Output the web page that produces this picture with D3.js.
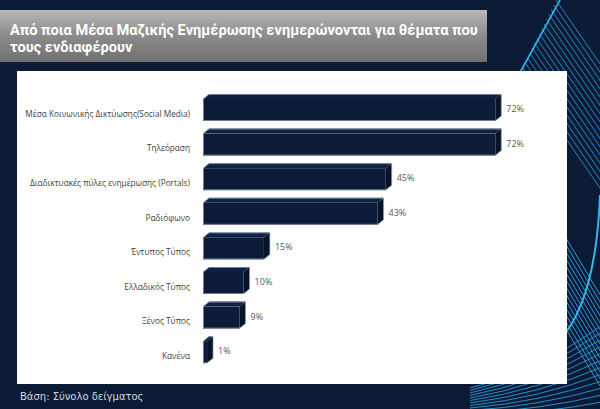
<!DOCTYPE html>
<html>
<head>
<meta charset="utf-8">
<script src="https://cdn.jsdelivr.net/npm/d3@7"></script>
<style>
  body { margin: 0; background: #0b1b35; }
  svg { display: block; }
</style>
</head>
<body>
<div id="chart"></div>
<script>
// Data
const categories = [
  "Μέσα Κοινωνικής Δικτύωσης(Social Media)",
  "Τηλεόραση",
  "Διαδικτυακές πύλες ενημέρωσης (Portals)",
  "Ραδιόφωνο",
  "Έντυπος Τύπος",
  "Ελλαδικός Τύπος",
  "Ξένος Τύπος",
  "Κανένα",
]
const values = [72, 72, 45, 43, 15, 10, 9, 1]
const titleLines = [
  "Από ποια Μέσα Μαζικής Ενημέρωσης ενημερώνονται για θέματα που",
  "τους ενδιαφέρουν",
]
const footnote = "Βάση: Σύνολο δείγματος"

const width = 600
const height = 409

const svg = d3.select("#chart").append("svg")
    .attr("width", width)
    .attr("height", height)

const defs = svg.append("defs")
const grad = defs.append("linearGradient")
    .attr("id", "banner-grad")
    .attr("x1", "0%").attr("x2", "0%")
    .attr("y1", "0%").attr("y2", "100%")
grad.selectAll("stop")
    .data([["0%", "#b9b9b9"], ["45%", "#8e8e8e"], ["100%", "#707070"]])
    .enter().append("stop")
        .attr("offset", d => d[0])
        .attr("stop-color", d => d[1])

// Background
svg.append("rect")
    .attr("width", width).attr("height", height)
    .attr("fill", "#0b1b35")

// Decorative lines (right side)
const deco = svg.append("g")
    .attr("fill", "none")
    .attr("stroke", "#2a9ad8")
    .attr("stroke-width", 1)
// top family
for (let k = 0; k < 16; k++) {
    const t = k / 15
    const x0 = 556 - t * 36
    const y0 = t * 72
    deco.append("line")
        .attr("x1", x0).attr("y1", y0)
        .attr("x2", x0 + 140).attr("y2", y0 + 140 * 1.45)
        .attr("opacity", 0.85)
}
deco.append("line")
    .attr("x1", 560).attr("y1", 0)
    .attr("x2", 517).attr("y2", 78)
    .attr("stroke", "#35b4f0").attr("stroke-width", 1.6)
// middle family
for (let k = 0; k < 14; k++) {
    const y0 = 228 + k * 7
    deco.append("line")
        .attr("x1", 560).attr("y1", y0)
        .attr("x2", 620).attr("y2", y0 + 100)
}
deco.append("path")
    .attr("d", "M600,195 Q596,300 560,340")
    .attr("stroke", "#35b4f0").attr("stroke-width", 2)
// bottom family
for (let k = 0; k < 12; k++) {
    deco.append("path")
        .attr("d", `M470,${388 + k * 2.5} Q540,${370 + k * 4} 602,${325 + k * 7}`)
        .attr("opacity", 0.9)
}

// Title banner
svg.append("rect")
    .attr("x", 0).attr("y", 10)
    .attr("width", 487).attr("height", 52)
    .attr("fill", "url(#banner-grad)")
const titleGroup = svg.append("g")
titleGroup.selectAll("text")
    .data(titleLines)
    .enter().append("text")
        .attr("x", 0)
        .attr("y", (d, i) => 35 + i * 17)
        .attr("fill", "#ffffff")
        .style("font-family", "Roboto, 'Liberation Sans', sans-serif")
        .style("font-weight", 700)
        .style("font-size", "14.5px")
        .text(d => d)
const firstLen = titleGroup.select("text").node().getComputedTextLength()
titleGroup.attr("transform", `translate(10,0) scale(${468 / firstLen},1)`)

// White panel
svg.append("rect")
    .attr("x", 17).attr("y", 71)
    .attr("width", 550).attr("height", 313)
    .attr("fill", "#ffffff")

// Footnote
svg.append("text")
    .attr("x", 20).attr("y", 400)
    .attr("fill", "#d4d8de")
    .style("font-family", "'DejaVu Sans', sans-serif")
    .style("font-size", "10px")
    .text(footnote)

// Scales
const xScale = d3.scaleLinear()
    .domain([0, 100])
    .range([203, 609])
const yScale = d3.scaleBand()
    .domain(categories)
    .range([94, 94 + 34.6 * categories.length])

const depthX = 6
const depthY = 5
const faceH = 22

const bars = svg.append("g")
    .selectAll("g")
    .data(values)
    .enter().append("g")

// front face
bars.append("rect")
    .attr("x", xScale(0))
    .attr("y", (d, i) => yScale(categories[i]) + depthY)
    .attr("width", d => xScale(d) - xScale(0))
    .attr("height", faceH)
    .attr("fill", "#0c1c38")
// top face
bars.append("path")
    .attr("d", (d, i) => {
        const y = yScale(categories[i]) + depthY
        const x0 = xScale(0), x1 = xScale(d)
        return `M${x0},${y} L${x0 + depthX},${y - depthY} L${x1 + depthX},${y - depthY} L${x1},${y} Z`
    })
    .attr("fill", "#0f2142")
// side face
bars.append("path")
    .attr("d", (d, i) => {
        const y = yScale(categories[i]) + depthY
        const x1 = xScale(d)
        return `M${x1},${y} L${x1 + depthX},${y - depthY} L${x1 + depthX},${y + faceH - depthY} L${x1},${y + faceH} Z`
    })
    .attr("fill", "#071329")
// light edge
bars.append("path")
    .attr("d", (d, i) => {
        const y = yScale(categories[i]) + depthY
        const x0 = xScale(0), x1 = xScale(d)
        return `M${x0 + 0.5},${y} L${x0 + depthX},${y - depthY + 0.5} L${x1 + depthX},${y - depthY + 0.5} L${x1 + depthX},${y + faceH - depthY} L${x1},${y + faceH - 0.5} L${x0 + 0.5},${y + faceH - 0.5} Z`
    })
    .attr("fill", "none")
    .attr("stroke", "#9aa6b8")
    .attr("stroke-width", 0.7)

// Category labels
const catLabels = svg.append("g")
    .selectAll("text")
    .data(categories)
    .enter().append("text")
        .attr("x", 190)
        .attr("y", d => yScale(d) + 20.5)
        .attr("text-anchor", "end")
        .attr("dominant-baseline", "middle")
        .attr("fill", "#3f3f3f")
        .style("font-family", "'Open Sans', sans-serif")
        .style("font-size", "9px")
        .text(d => d)
// keep the longest label at the reference width (about 165px)
const longest = d3.max(catLabels.nodes(), n => n.getComputedTextLength())
if (longest > 165) catLabels.style("font-size", `${9 * 165 / longest}px`)

// Value labels
svg.append("g")
    .selectAll("text")
    .data(values)
    .enter().append("text")
        .attr("x", d => xScale(d) + 11)
        .attr("y", (d, i) => yScale(categories[i]) + 15.5)
        .attr("dominant-baseline", "middle")
        .attr("fill", "#595959")
        .style("font-family", "'Open Sans', sans-serif")
        .style("font-size", "9px")
        .text(d => `${d}%`)
</script>
</body>
</html>
